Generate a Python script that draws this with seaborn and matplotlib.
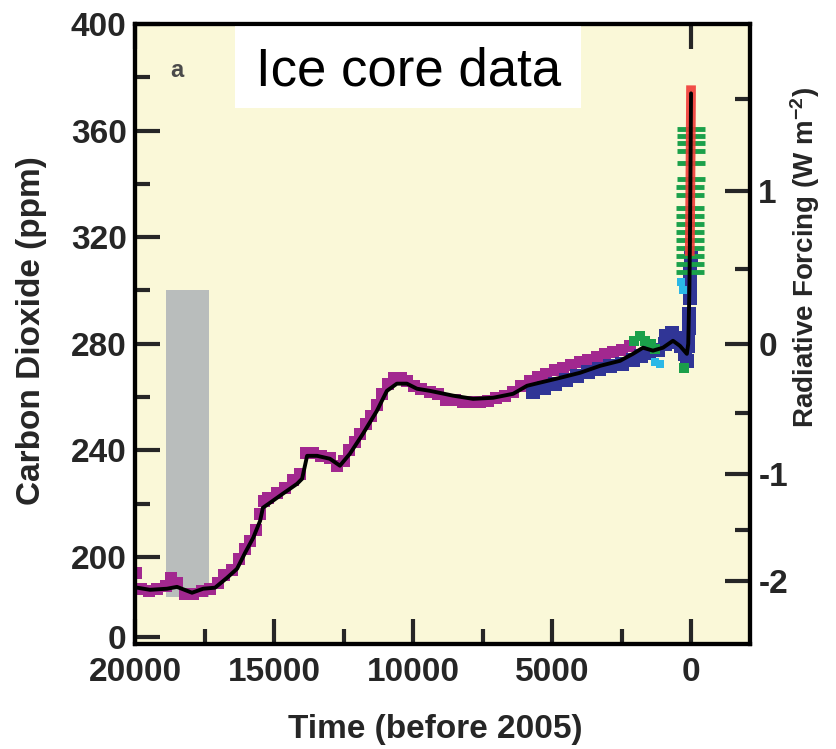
import seaborn as sns
import matplotlib.pyplot as plt
import numpy as np
from matplotlib.patches import Rectangle

# 1. Style
sns.set_style("ticks")
plt.rcParams["font.family"] = ["Liberation Sans", "DejaVu Sans"]
plt.rcParams["font.weight"] = "bold"
plt.rcParams["axes.labelweight"] = "bold"
plt.rcParams["mathtext.fontset"] = "custom"
plt.rcParams["mathtext.rm"] = "Liberation Sans:bold"
plt.rcParams["mathtext.it"] = "Liberation Sans:bold"
plt.rcParams["mathtext.bf"] = "Liberation Sans:bold"

# 2. Data (years before 2005, CO2 in ppm)
line_years = [19930, 19460, 18850, 18490, 17950, 17550, 17120, 16690, 16330, 16040,
              15750, 15500, 15400, 15140, 14680, 14170, 13990, 13810, 13450, 12990,
              12630, 12270, 11800, 11300, 10940, 10580, 10220, 9860, 9390, 8560,
              7840, 7120, 6400, 5900, 5430, 4710, 3990, 3270, 2550, 2090,
              1730, 1370, 1010, 650, 400, 150, 100, 60, 40, 25, 12, 0]
line_co2 = [188.4, 187.6, 188.0, 188.7, 186.5, 188.0, 188.4, 192.1, 195.5, 201.5,
            207.1, 213.5, 218.4, 220.3, 223.7, 227.4, 229.3, 237.9, 237.9, 236.8,
            234.2, 238.7, 246.2, 254.8, 262.3, 265.0, 265.0, 263.1, 262.3, 260.5,
            259.3, 259.7, 261.2, 264.2, 265.4, 267.2, 269.1, 271.7, 273.6, 276.2,
            278.5, 277.4, 278.5, 281.1, 279.2, 276.2, 280, 300, 318, 338, 356, 374]

purple_years = [19950, 19800, 19500, 19200, 18900, 18700, 18500, 18200, 17900, 17600,
                17300, 17000, 16800, 16500, 16250, 16050, 15850, 15650, 15500, 15350,
                15200, 14900, 14600, 14300, 14050, 13850, 13600, 13300, 13000, 12750,
                12500, 12300, 12100, 11900, 11700, 11500, 11300, 11100, 10900, 10700,
                10450, 10200, 9950, 9700, 9400, 9100, 8800, 8500, 8200, 7900,
                7600, 7300, 7000, 6700, 6400, 6100, 5800, 5500, 5200, 4900,
                4600, 4300, 4000, 3700, 3400, 3100, 2800, 2500, 2200]
purple_co2 = [194, 188, 187, 188, 189, 192, 190, 186, 186, 187,
              188, 190, 193, 195, 199, 203, 206, 210, 216, 221,
              222, 224, 226, 229, 231, 239, 239, 238, 237, 234,
              236, 240, 243, 246, 250, 253, 257, 261, 265, 267,
              267, 266, 264, 263, 262, 261, 259, 259, 258, 258,
              258, 258.5, 259.5, 260.5, 262, 264, 266, 267.5, 268.5, 270,
              271, 272, 273, 274, 275, 276, 277, 277.5, 279]

blue_years = [5700, 5300, 4900, 4500, 4100, 3700, 3300, 2900, 2500, 2100,
              1800, 1500, 1200, 950, 900, 750, 700, 550, 500, 350,
              200, 150, 120, 100, 80, 60, 45, 35, 25, 15]
blue_co2 = [262, 263.5, 265, 266.5, 268, 269.5, 270.5, 271.5, 272.5, 274,
            275.5, 276.5, 277.5, 280, 283, 282, 284, 280.5, 282, 279,
            276, 273.5, 279, 282, 286, 291, 297, 302, 307, 312]

green_years = [2050, 1850, 1650, 1450, 1300, 250]
green_co2 = [281, 283, 281, 280, 278, 271]

green_dash_years = [50, 47, 44, 41, 38, 35, 32, 29, 26, 23, 20, 17, 14, 11, 8, 5, 2]
green_dash_co2 = [307, 310, 313, 316, 319, 322, 325, 328, 331, 336,
                  339, 342, 348, 352.5, 355.5, 358, 360.5]

cyan_years = [1300, 1100, 350, 300]
cyan_co2 = [273, 272.5, 303, 300]

red_years = [47, 35, 25, 15, 5, 0]
red_co2 = [313, 325, 338, 352, 368, 377]

lgm_years = [18900, 17350]
lgm_low, lgm_high = 185, 300

# right axis: radiative forcing tick positions (CO2 ppm)
rf_major = [191, 231, 280, 337.5]
rf_labels = ["-2", "-1", "0", "1"]
rf_minor = [210, 254, 308, 372]

# 3. Broken-looking y scale: linear above 180 ppm, squeezed below
k = 0.0567


def fwd(y):
    y = np.asarray(y, dtype=float)
    return np.where(y >= 180, y, 180 + (y - 180) * k)


def inv(v):
    v = np.asarray(v, dtype=float)
    return np.where(v >= 180, v, 180 + (v - 180) / k)


fig = plt.figure(figsize=(8.36, 7.49), dpi=100)
ax = fig.add_axes([0.1615, 0.14, 0.7356, 0.8278])
ax.set_facecolor("#FAF8D8")

ax.fill_between(lgm_years, lgm_low, lgm_high, color="#B9BDBC", lw=0, zorder=1)

sns.scatterplot(x=purple_years, y=purple_co2, ax=ax, marker="s", s=80,
                color="#A2288F", linewidth=0, zorder=2)
sns.scatterplot(x=blue_years, y=blue_co2, ax=ax, marker="s", s=90,
                color="#303596", linewidth=0, zorder=3)
sns.scatterplot(x=green_years, y=green_co2, ax=ax, marker="s", s=60,
                color="#1BA04A", linewidth=0, zorder=3)
sns.scatterplot(x=green_dash_years, y=green_dash_co2, ax=ax, marker="_", s=380,
                color="#1BA04A", linewidth=3.5, zorder=3)
sns.scatterplot(x=cyan_years, y=cyan_co2, ax=ax, marker="s", s=30,
                color="#2BB8E6", linewidth=0, zorder=3)
sns.lineplot(x=red_years, y=red_co2, ax=ax, color="#F03A36", lw=7,
             alpha=0.9, estimator=None, zorder=4, solid_capstyle="butt")
sns.lineplot(x=line_years, y=line_co2, ax=ax, color="black", lw=2.8,
             estimator=None, zorder=5)

ax.set_yscale("function", functions=(fwd, inv))
ylim = (-45.8, 400)
ax.set_ylim(*ylim)
ax.set_xlim(20000, -2120)

ax.set_xticks([20000, 15000, 10000, 5000, 0])
ax.set_xticklabels(["20000", "15000", "10000", "5000", "0"])
ax.set_xticks([17500, 12500, 7500, 2500], minor=True)
ax.set_yticks([0, 200, 240, 280, 320, 360, 400])
ax.set_yticklabels(["0", "200", "240", "280", "320", "360", "400"])
ax.set_yticks([220, 260, 300, 340, 380], minor=True)
ax.yaxis.set_minor_formatter(plt.NullFormatter())
ax.xaxis.set_minor_formatter(plt.NullFormatter())
ax.yaxis.get_major_ticks()[0].tick1line.set_visible(False)

ax.tick_params(axis="both", which="both", direction="in", width=3, labelsize=24)
ax.tick_params(axis="both", which="major", length=18)
ax.tick_params(axis="both", which="minor", length=11)
ax.tick_params(axis="x", top=True, pad=9)
ax.tick_params(axis="y", right=False, pad=6)

ax.set_xlabel("Time (before 2005)", fontsize=24, fontweight="bold")
ax.set_ylabel("Carbon Dioxide (ppm)", fontsize=24, fontweight="bold")
ax.xaxis.set_label_coords(0.489, -0.112)
ax.yaxis.set_label_coords(-0.143, 0.505)

# right axis
ax2 = ax.twinx()
ax2.set_yscale("function", functions=(fwd, inv))
ax2.set_ylim(*ylim)
ax2.set_yticks(rf_major)
ax2.set_yticklabels(rf_labels)
ax2.set_yticks(rf_minor, minor=True)
ax2.yaxis.set_minor_formatter(plt.NullFormatter())
ax2.tick_params(axis="y", which="both", direction="in", width=3, labelsize=24, pad=6)
ax2.tick_params(axis="y", which="major", length=18)
ax2.tick_params(axis="y", which="minor", length=11)
ax2.set_ylabel(r"Radiative Forcing (W m$^{-2}$)", fontsize=20, fontweight="bold")
ax2.yaxis.set_label_coords(1.062, 0.624)

for a in (ax, ax2):
    for sp in a.spines.values():
        sp.set_linewidth(3)
        sp.set_color("black")

# panel letter and title box
ax2.text(0.057, 0.9145, "a", transform=ax2.transAxes, fontsize=17,
         color="#4A4A4A", fontweight="bold", zorder=3)
ax2.add_patch(Rectangle((0.1626, 0.8645), 0.5626, 0.1323, transform=ax2.transAxes,
                        facecolor="white", edgecolor="none", clip_on=False, zorder=2.4))
ax2.text(0.4447, 0.9016, "Ice core data", transform=ax2.transAxes, fontsize=38,
         fontweight="normal", ha="center", va="baseline", color="black", zorder=3)

plt.savefig("out.png", dpi=100)
plt.close()
